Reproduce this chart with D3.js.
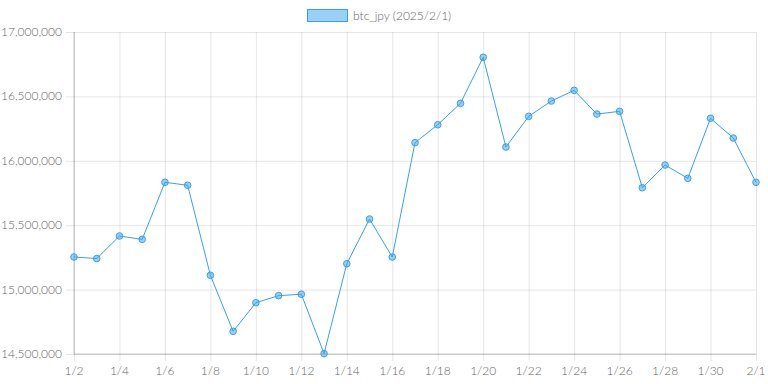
<!DOCTYPE html>
<html>
<head>
<meta charset="utf-8">
<script src="https://cdn.jsdelivr.net/npm/d3@7"></script>
<style>
  body { margin: 0; background: #fff; }
  text { font-family: Lato, "Noto Sans", sans-serif; font-weight: 300; fill: #666; }
  .grid line { stroke: rgba(0,0,0,0.1); }
  .grid path { display: none; }
</style>
</head>
<body>
<svg id="chart" width="768" height="384"></svg>
<script>
// values (JPY per BTC)
const dates = ["1/2","1/3","1/4","1/5","1/6","1/7","1/8","1/9","1/10","1/11","1/12","1/13","1/14","1/15","1/16",
               "1/17","1/18","1/19","1/20","1/21","1/22","1/23","1/24","1/25","1/26","1/27","1/28","1/29","1/30","1/31","2/1"];
const prices = [15253000, 15241000, 15416000, 15390000, 15833000, 15810000, 15111000, 14676000, 14898000, 14953000,
                14964000, 14503000, 15201000, 15548000, 15253000, 16141000, 16280000, 16446000, 16804000, 16107000,
                16345000, 16464000, 16547000, 16363000, 16384000, 15791000, 15967000, 15864000, 16330000, 16177000, 15833000];
const yTicks = [14500000, 15000000, 15500000, 16000000, 16500000, 17000000];
const seriesName = "btc_jpy (2025/2/1)";

let svg = d3.select("svg#chart");
let margin = { top: 32, right: 12, bottom: 30, left: 74 };
let chartWidth = 768 - margin.left - margin.right;
let chartHeight = 384 - margin.top - margin.bottom;

const xScale = d3.scalePoint().domain(dates).range([0, chartWidth]);
const yScale = d3.scaleLinear().domain([14500000, 17000000]).range([chartHeight, 0]);
const xTicks = dates.filter((d, i) => i % 2 === 0);

// gridlines
svg.append("g").attr("class", "grid")
  .attr("transform", "translate(" + margin.left + "," + margin.top + ")")
  .call(d3.axisLeft(yScale).tickValues(yTicks).tickSize(-chartWidth).tickFormat(""))
  .call(g => g.selectAll("line").attr("x1", -8));

svg.append("g").attr("class", "grid")
  .attr("transform", "translate(" + margin.left + "," + (margin.top + chartHeight) + ")")
  .call(d3.axisBottom(xScale).tickValues(xTicks).tickSize(-chartHeight).tickFormat(""))
  .call(g => g.selectAll("line").attr("y1", 7));

// axis lines
svg.append("line").attr("x1", margin.left).attr("x2", margin.left)
  .attr("y1", margin.top).attr("y2", margin.top + chartHeight).attr("stroke", "rgba(0,0,0,0.22)");
svg.append("line").attr("x1", margin.left).attr("x2", margin.left + chartWidth)
  .attr("y1", margin.top + chartHeight).attr("y2", margin.top + chartHeight).attr("stroke", "rgba(0,0,0,0.22)");

// tick labels
svg.append("g").selectAll("text").data(yTicks).join("text")
  .attr("x", margin.left - 12)
  .attr("y", d => margin.top + yScale(d) + 4)
  .attr("text-anchor", "end")
  .style("font-size", "12px")
  .text(d => d3.format(",")(d));

svg.append("g").selectAll("text").data(xTicks).join("text")
  .attr("x", d => margin.left + xScale(d))
  .attr("y", margin.top + chartHeight + 21)
  .attr("text-anchor", "middle")
  .style("font-size", "12px")
  .text(d => d);

// line + points
let plot = svg.append("g").attr("transform", "translate(" + margin.left + "," + margin.top + ")");
let line = d3.line().x((d, i) => xScale(dates[i])).y(d => yScale(d));
plot.append("path").datum(prices)
  .attr("d", line).attr("fill", "none")
  .attr("stroke", "#36a2eb").attr("stroke-width", 1);

plot.selectAll("circle").data(prices).join("circle")
  .attr("cx", (d, i) => xScale(dates[i]))
  .attr("cy", d => yScale(d))
  .attr("r", 3.3)
  .attr("fill", "rgba(54,162,235,0.5)")
  .attr("stroke", "#36a2eb")
  .attr("stroke-width", 1);

// legend
svg.append("rect").attr("x", 307.5).attr("y", 9.5).attr("width", 40).attr("height", 12)
  .attr("fill", "rgba(54,162,235,0.5)").attr("stroke", "#36a2eb").attr("stroke-width", 1);
svg.append("text").attr("x", 353).attr("y", 16).attr("dy", "0.35em")
  .style("font-size", "12px").text(seriesName);
</script>
</body>
</html>
